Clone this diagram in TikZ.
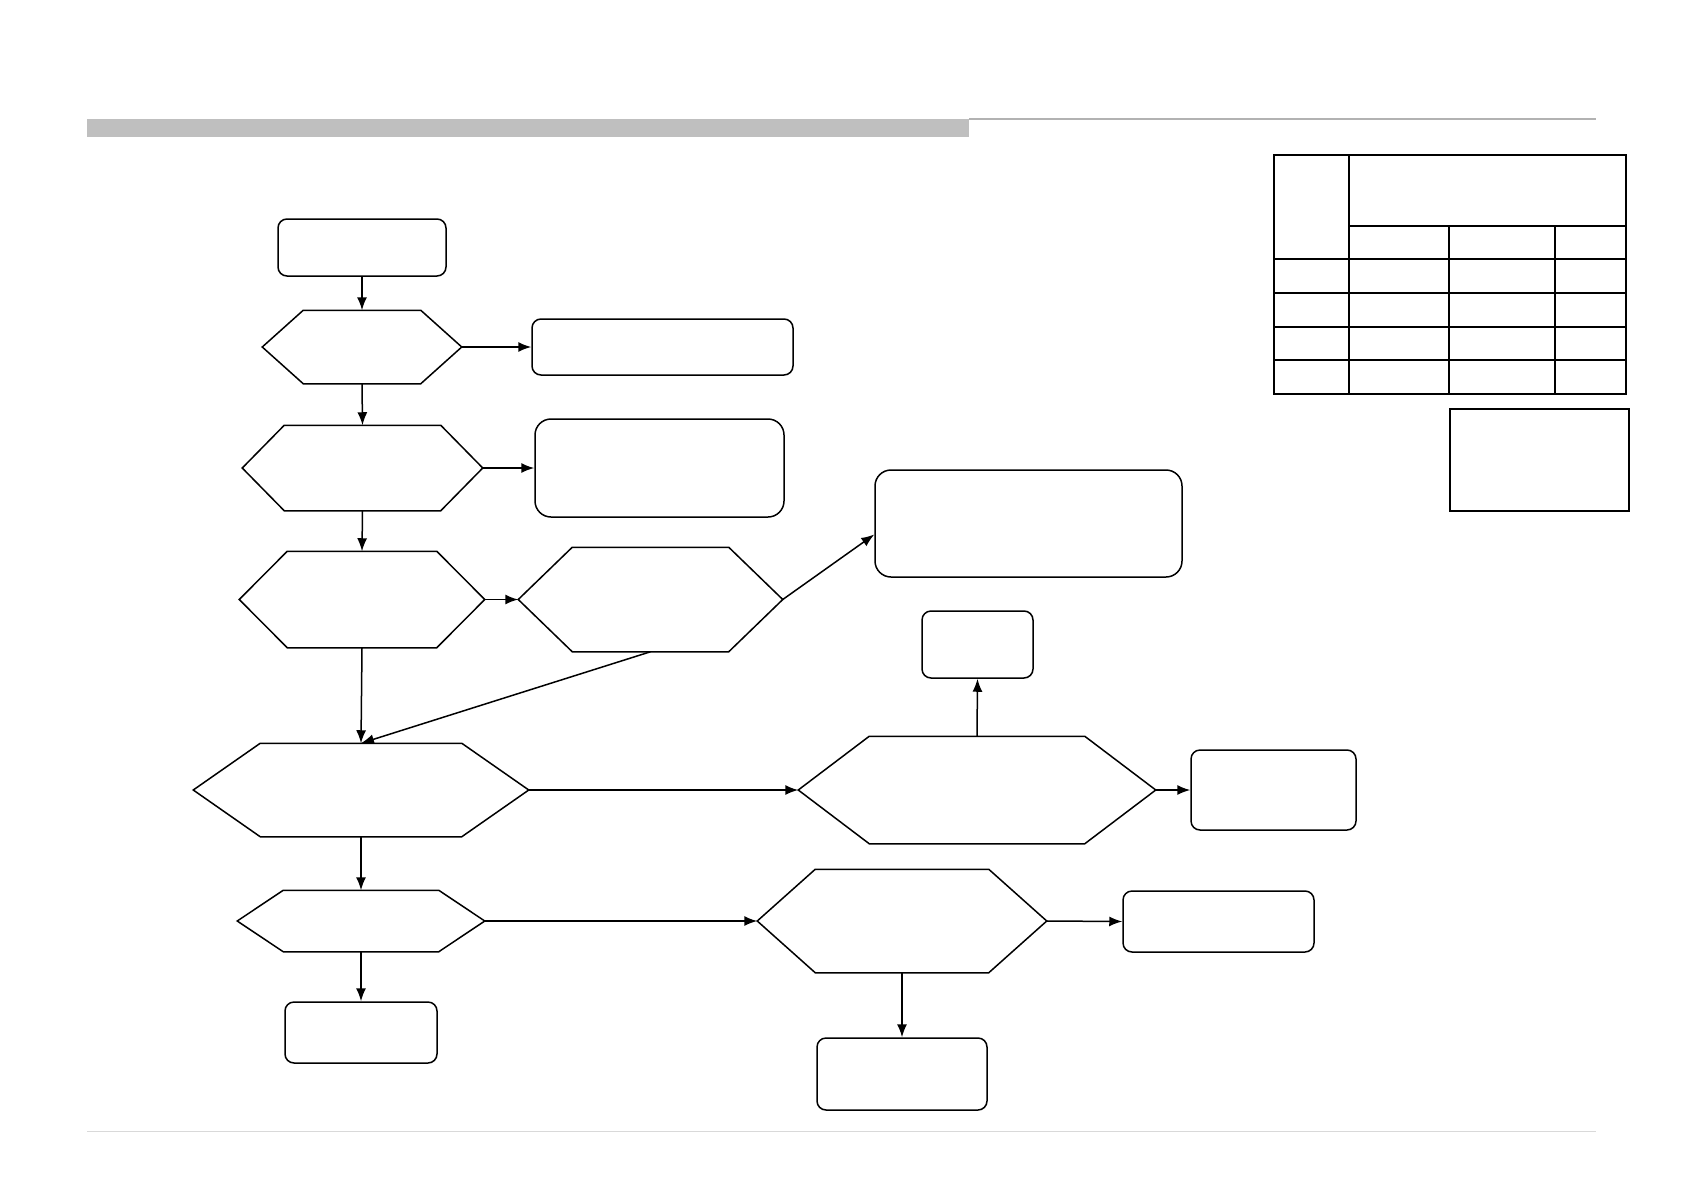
\documentclass[tikz,border=0pt]{standalone}
\usetikzlibrary{arrows.meta}
\begin{document}
\begin{tikzpicture}[x=1pt,y=-1pt,
  line width=1.5pt,
  rbox/.style={draw,rounded corners=9pt,inner sep=0pt},
  rboxbig/.style={draw,rounded corners=16pt,inner sep=0pt},
  hexbox/.style={inner sep=0pt},
  arr/.style={-{Latex[length=13pt,width=10pt]}},
  tbl/.style={line width=2pt}]
\useasboundingbox (0,0) rectangle (1683,1191);
% header and footer rules
\fill[black!25] (87,119) rectangle (969,137);
\draw[black!30,line width=2pt] (969,119) -- (1596,119);
\draw[black!15,line width=1pt] (87,1131) -- (1596,1131);
\newcommand{\hexdraw}[2]{\draw (#1.west) -- ([xshift=#2pt]#1.north west) -- ([xshift=-#2pt]#1.north east) -- (#1.east) -- ([xshift=-#2pt]#1.south east) -- ([xshift=#2pt]#1.south west) -- cycle;}
% nodes
\node[rbox,minimum width=168pt,minimum height=57pt] (start) at (362,247.5) {};
\node[hexbox,minimum width=198pt,minimum height=72pt] (h1) at (362,347) {};
\node[rbox,minimum width=261pt,minimum height=56pt] (r1) at (662.5,347) {};
\node[hexbox,minimum width=239pt,minimum height=84pt] (h2) at (362.5,468) {};
\node[rboxbig,minimum width=249pt,minimum height=98pt] (r2) at (659.5,468) {};
\node[hexbox,minimum width=244pt,minimum height=95pt] (h3) at (362,599.5) {};
\node[hexbox,minimum width=263pt,minimum height=103pt] (h4) at (650.5,599.5) {};
\node[rboxbig,minimum width=307pt,minimum height=107pt] (r3) at (1028.5,523.5) {};
\node[rbox,minimum width=111pt,minimum height=67pt] (sb) at (977.5,644.5) {};
\node[hexbox,minimum width=334pt,minimum height=92pt] (h5) at (361,790) {};
\node[hexbox,minimum width=356pt,minimum height=106pt] (h6) at (977,790) {};
\node[rbox,minimum width=165pt,minimum height=80pt] (rb) at (1273.5,790) {};
\node[hexbox,minimum width=246pt,minimum height=60pt] (h7) at (361,921) {};
\node[rbox,minimum width=152pt,minimum height=61pt] (bl) at (361,1032.5) {};
\node[hexbox,minimum width=288pt,minimum height=102pt] (h8) at (902,921) {};
\node[rbox,minimum width=191pt,minimum height=61pt] (rb2) at (1218.5,921.5) {};
\node[rbox,minimum width=170pt,minimum height=72pt] (bb) at (902,1074) {};
\hexdraw{h1}{41}
\hexdraw{h2}{42}
\hexdraw{h3}{48}
\hexdraw{h4}{54}
\hexdraw{h5}{67}
\hexdraw{h6}{71}
\hexdraw{h7}{46}
\hexdraw{h8}{58}
% connectors
\draw[arr] (start.south) -- (h1.north);
\draw[arr] (h1.east) -- (r1.west);
\draw[arr] (h1.south) -- (h2.north);
\draw[arr] (h2.east) -- (r2.west);
\draw[arr] (h2.south) -- (h3.north);
\draw[arr] (h3.east) -- (h4.west);
\draw[arr] (h4.east) -- ([yshift=-11pt]r3.west);
\draw[arr] (h3.south) -- (h5.north);
\draw[arr] (h4.south) -- (h5.north);
\draw[arr] (h5.east) -- (h6.west);
\draw[arr] (h6.north) -- (sb.south);
\draw[arr] (h6.east) -- (rb.west);
\draw[arr] (h5.south) -- (h7.north);
\draw[arr] (h7.east) -- (h8.west);
\draw[arr] (h7.south) -- (bl.north);
\draw[arr] (h8.east) -- (rb2.west);
\draw[arr] (h8.south) -- (bb.north);
% table
\draw[tbl] (1274,155) rectangle (1626,394);
\draw[tbl] (1348.5,155) -- (1348.5,394);
\draw[tbl] (1348.5,226) -- (1626,226);
\draw[tbl] (1449,226) -- (1449,394);
\draw[tbl] (1555,226) -- (1555,394);
\draw[tbl] (1274,259) -- (1626,259);
\draw[tbl] (1274,293) -- (1626,293);
\draw[tbl] (1274,326.5) -- (1626,326.5);
\draw[tbl] (1274,360) -- (1626,360);
\node[draw,line width=2pt,inner sep=0pt,minimum width=179pt,minimum height=102pt] (note) at (1539,459.5) {};
\end{tikzpicture}
\end{document}
